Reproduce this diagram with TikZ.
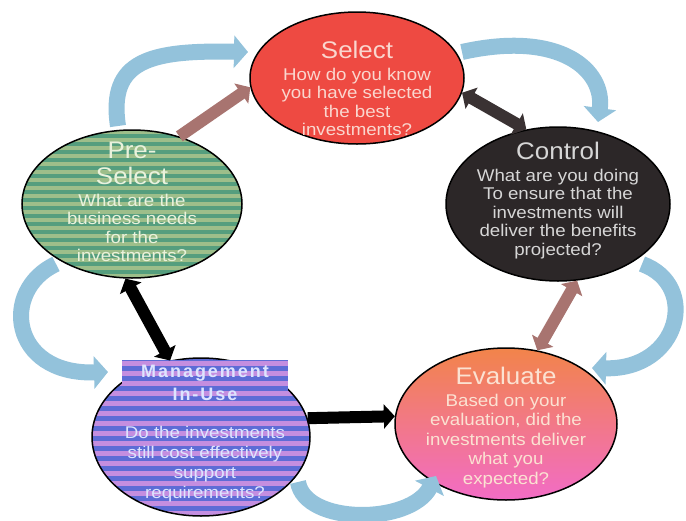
\documentclass[tikz,border=0pt]{standalone}
\usepackage{fontspec}
\setmainfont{Liberation Sans}
\usetikzlibrary{shapes.geometric,arrows.meta,positioning}

\definecolor{selred}{HTML}{EE4A42}
\definecolor{seltext}{HTML}{FAD6CE}
\definecolor{ctldark}{HTML}{2C2728}
\definecolor{ctltext}{HTML}{D6D6D6}
\definecolor{pregreen}{HTML}{559E7E}
\definecolor{prestripe}{HTML}{9DBE8A}
\definecolor{pretext}{HTML}{EAF2DC}
\definecolor{mgtblue}{HTML}{5D6CD6}
\definecolor{mgtpink}{HTML}{C48EE0}
\definecolor{mgttext}{HTML}{DDE4FF}
\definecolor{evatop}{HTML}{F2844A}
\definecolor{evabottom}{HTML}{F26CC6}
\definecolor{evatext}{HTML}{FBE2D2}
\definecolor{ringblue}{HTML}{93C2DB}
\definecolor{linkbrown}{HTML}{A87470}
\definecolor{linkdark}{HTML}{3A3233}

\newcommand\stagetitle[1]{{\fontsize{24}{28}\selectfont\addfontfeature{FakeStretch=1.08}#1}}

\tikzset{
  stage/.style={ellipse, draw=black, line width=1.5pt, inner sep=0pt},
  caption/.style={align=center, inner sep=0pt, font=\fontsize{17}{18.5}\selectfont\addfontfeature{FakeStretch=1.1}},
  striped/.style n args={3}{fill=#1, path picture={
      \foreach \k in {0,...,24}
        \fill[#2] ([yshift=\k*#3]path picture bounding box.south west) rectangle ([yshift=\k*#3+#3/2]path picture bounding box.south east);}},
  ring/.style={ringblue, line width=16pt, -{Triangle[length=14pt, width=32pt]}},
  link/.style={line width=12pt},
}

\begin{document}
\begin{tikzpicture}[x=1pt, y=-1pt, >={Triangle[length=11pt, width=24pt]}]
  \useasboundingbox (0,0) rectangle (686,520);
  \fill[white] (0,0) rectangle (686,520);

  %Select
  \node[stage, fill=selred, minimum width=214pt, minimum height=132pt] (sel) at (357,78) {};
  \node[caption, text=seltext, below=30pt of sel.north] (sel-txt) {\stagetitle{Select}\\[3pt] How do you know\\ you have selected\\ the best\\ investments?};

  %Control
  \node[stage, fill=ctldark, minimum width=224pt, minimum height=154pt] (ctl) at (558,204) {};
  \node[caption, text=ctltext, below=16pt of ctl.north] (ctl-txt) {\stagetitle{Control}\\[3pt] What are you doing\\ To ensure that the\\ investments will\\ deliver the benefits\\ projected?};

  %Pre-Select
  \node[stage, striped={pregreen}{prestripe}{8pt}, minimum width=220pt, minimum height=148pt] (pre) at (132,204) {};
  \node[caption, text=pretext, below=13pt of pre.north] (pre-txt) {\stagetitle{Pre-}\\[7.5pt]\stagetitle{Select}\\[3pt] What are the\\ business needs\\ for the\\ investments?};

  %Management In-Use
  \node[stage, striped={mgtblue}{mgtpink}{10pt}, minimum width=218pt, minimum height=158pt] (mgt) at (201,437) {};
  \node[striped={mgtblue}{mgtpink}{10pt}, minimum width=166pt, minimum height=46pt, inner sep=0pt, align=center, text=mgttext,
        font=\bfseries\fontsize{18}{18.5}\selectfont\addfontfeature{LetterSpace=11}] (mgt-head) at (205,383) {Management\\[4.5pt] In-Use};
  \node[caption, text=mgttext, below=20pt of mgt-head.south] (mgt-txt) {Do the investments\\[1.5pt] still cost effectively\\[1.5pt] support\\[1.5pt] requirements?};

  %Evaluate
  \node[stage, top color=evatop, bottom color=evabottom, minimum width=222pt, minimum height=152pt] (eva) at (506,424) {};
  \node[caption, text=evatext, below=20pt of eva.north] (eva-txt) {\stagetitle{Evaluate}\\[3pt] Based on your\\[1pt] evaluation, did the\\[1pt] investments deliver\\[1pt] what you\\[1pt] expected?};

  %links between stages
  \draw[link, linkbrown, ->] (pre.55) -- (sel.185);
  \draw[link, linkdark, <->] (sel.-8) -- (ctl.113);
  \draw[link, linkbrown, <->] (ctl.-76) -- (eva.67);
  \draw[link, black, <->] (pre.-95) -- (mgt.112);
  \draw[link, black, ->] (mgt.10) -- (eva.176);

  %outer ring
  \coordinate (ring1a) at (118,126);
  \coordinate (ring1b) at (248,52);
  \coordinate (ring2a) at (462,52);
  \coordinate (ring2b) at (598,122);
  \coordinate (ring3a) at (642,264);
  \coordinate (ring3b) at (592,368);
  \coordinate (ring4a) at (298,482);
  \coordinate (ring4b) at (436,476);
  \coordinate (ring5a) at (56,264);
  \coordinate (ring5b) at (108,372);
  \draw[ring] (ring1a) .. controls (108,60) and (150,50) .. (ring1b);
  \draw[ring] (ring2a) .. controls (560,30) and (605,70) .. (ring2b);
  \draw[ring] (ring3a) .. controls (700,285) and (680,370) .. (ring3b);
  \draw[ring] (ring4a) .. controls (305,525) and (410,525) .. (ring4b);
  \draw[ring] (ring5a) .. controls (0,290) and (10,375) .. (ring5b);
\end{tikzpicture}
\end{document}
